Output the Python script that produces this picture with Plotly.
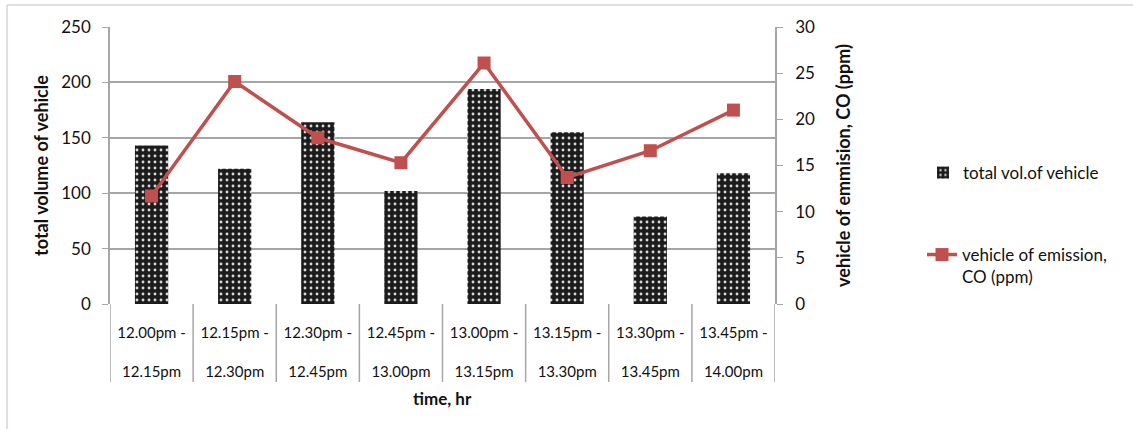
import plotly.graph_objects as go

# Time intervals (two-line labels) and measurements
interval_start = ["12.00pm -", "12.15pm -", "12.30pm -", "12.45pm -",
                  "13.00pm -", "13.15pm -", "13.30pm -", "13.45pm -"]
interval_end = ["12.15pm", "12.30pm", "12.45pm", "13.00pm",
                "13.15pm", "13.30pm", "13.45pm", "14.00pm"]
total_vehicles = [143, 122, 164, 102, 194, 155, 79, 118]
co_ppm = [11.7, 24.1, 18.0, 15.3, 26.1, 13.7, 16.6, 21.0]

categories = [f"{a}{b}" for a, b in zip(interval_start, interval_end)]
tick_labels = [f"{a}<br><br>{b}" for a, b in zip(interval_start, interval_end)]

FONT = "Lato, 'Open Sans', sans-serif"
GRID = "#a6a6a6"
W, H = 1133, 429
L, R, T, B = 110, 358, 27, 125
plot_h = H - T - B
plot_w = W - L - R

fig = go.Figure()

fig.add_trace(go.Bar(
    x=categories, y=total_vehicles, name="total vol.of vehicle",
    width=0.4,
    marker=dict(color="#1c1c1c", line=dict(width=0),
                pattern=dict(shape=".", fgcolor="#d8d8d8", bgcolor="#1c1c1c",
                             size=6, solidity=0.18, fillmode="replace")),
    legend="legend", showlegend=True,
))

fig.add_trace(go.Scatter(
    x=categories, y=co_ppm, name="vehicle of emission,<br>CO (ppm)",
    yaxis="y2", mode="lines+markers",
    line=dict(color="#c0504d", width=3.5),
    marker=dict(symbol="square", size=13, color="#c0504d"),
    legend="legend2", showlegend=True,
))

# category separators below the axis
sep_len = 78 / plot_h
shapes = []
for k in range(len(categories) + 1):
    shapes.append(dict(type="line", xref="x", yref="paper",
                       x0=k - 0.5, x1=k - 0.5, y0=0, y1=-sep_len,
                       line=dict(color=GRID, width=1.5)))

# faint outer chart frame (top and left)
fx = (7 - L) / plot_w
fy = (H - B - 5) / plot_h
shapes.append(dict(type="line", xref="paper", yref="paper",
                   x0=fx, x1=(W - L) / plot_w, y0=fy, y1=fy,
                   line=dict(color="#d0d5de", width=1.5)))
shapes.append(dict(type="line", xref="paper", yref="paper",
                   x0=fx, x1=fx, y0=fy, y1=-B / plot_h,
                   line=dict(color="#d0d5de", width=1.5)))

fig.update_layout(
    width=W, height=H,
    margin=dict(l=L, r=R, t=T, b=B, autoexpand=False),
    paper_bgcolor="white", plot_bgcolor="white",
    font=dict(family=FONT, size=15, color="#111111"),
    showlegend=True,
    shapes=shapes,
    xaxis=dict(
        type="category", categoryorder="array", categoryarray=categories,
        tickmode="array", tickvals=categories, ticktext=tick_labels,
        range=[-0.5, len(categories) - 0.5],
        showgrid=False, showline=False, ticks="", zeroline=False,
        ticklabelstandoff=18,
        tickfont=dict(size=15),
    ),
    yaxis=dict(
        range=[0, 250], dtick=50, showgrid=True, gridcolor=GRID, gridwidth=1.5,
        showline=True, linecolor=GRID, linewidth=1.5,
        ticks="outside", ticklen=6, tickcolor=GRID, zeroline=False,
        tickfont=dict(size=17), ticklabelstandoff=8,
        title=dict(text="<b>total volume of vehicle</b>",
                   font=dict(size=18), standoff=8),
    ),
    yaxis2=dict(
        range=[0, 30], dtick=5, overlaying="y", side="right",
        showgrid=False, showline=True, linecolor=GRID, linewidth=1.5,
        ticks="outside", ticklen=6, tickcolor=GRID, zeroline=False,
        tickfont=dict(size=17), ticklabelstandoff=9,
        title=dict(text="<b>vehicle of emmision, CO (ppm)</b>",
                   font=dict(size=18), standoff=23),
    ),
    legend=dict(x=(923 - L) / plot_w, y=(H - B - 173) / plot_h,
                xanchor="left", yanchor="middle",
                font=dict(size=17), bgcolor="rgba(0,0,0,0)"),
    legend2=dict(x=(922 - L) / plot_w, y=(H - B - 266) / plot_h,
                 xanchor="left", yanchor="middle", valign="top",
                 font=dict(size=17), bgcolor="rgba(0,0,0,0)"),
    annotations=[dict(text="<b>time, hr</b>", xref="paper", yref="paper",
                      x=0.5, y=-(398 - (H - B)) / plot_h,
                      xanchor="center", yanchor="middle",
                      showarrow=False, font=dict(size=17))],
)

fig.write_html("out.html")
